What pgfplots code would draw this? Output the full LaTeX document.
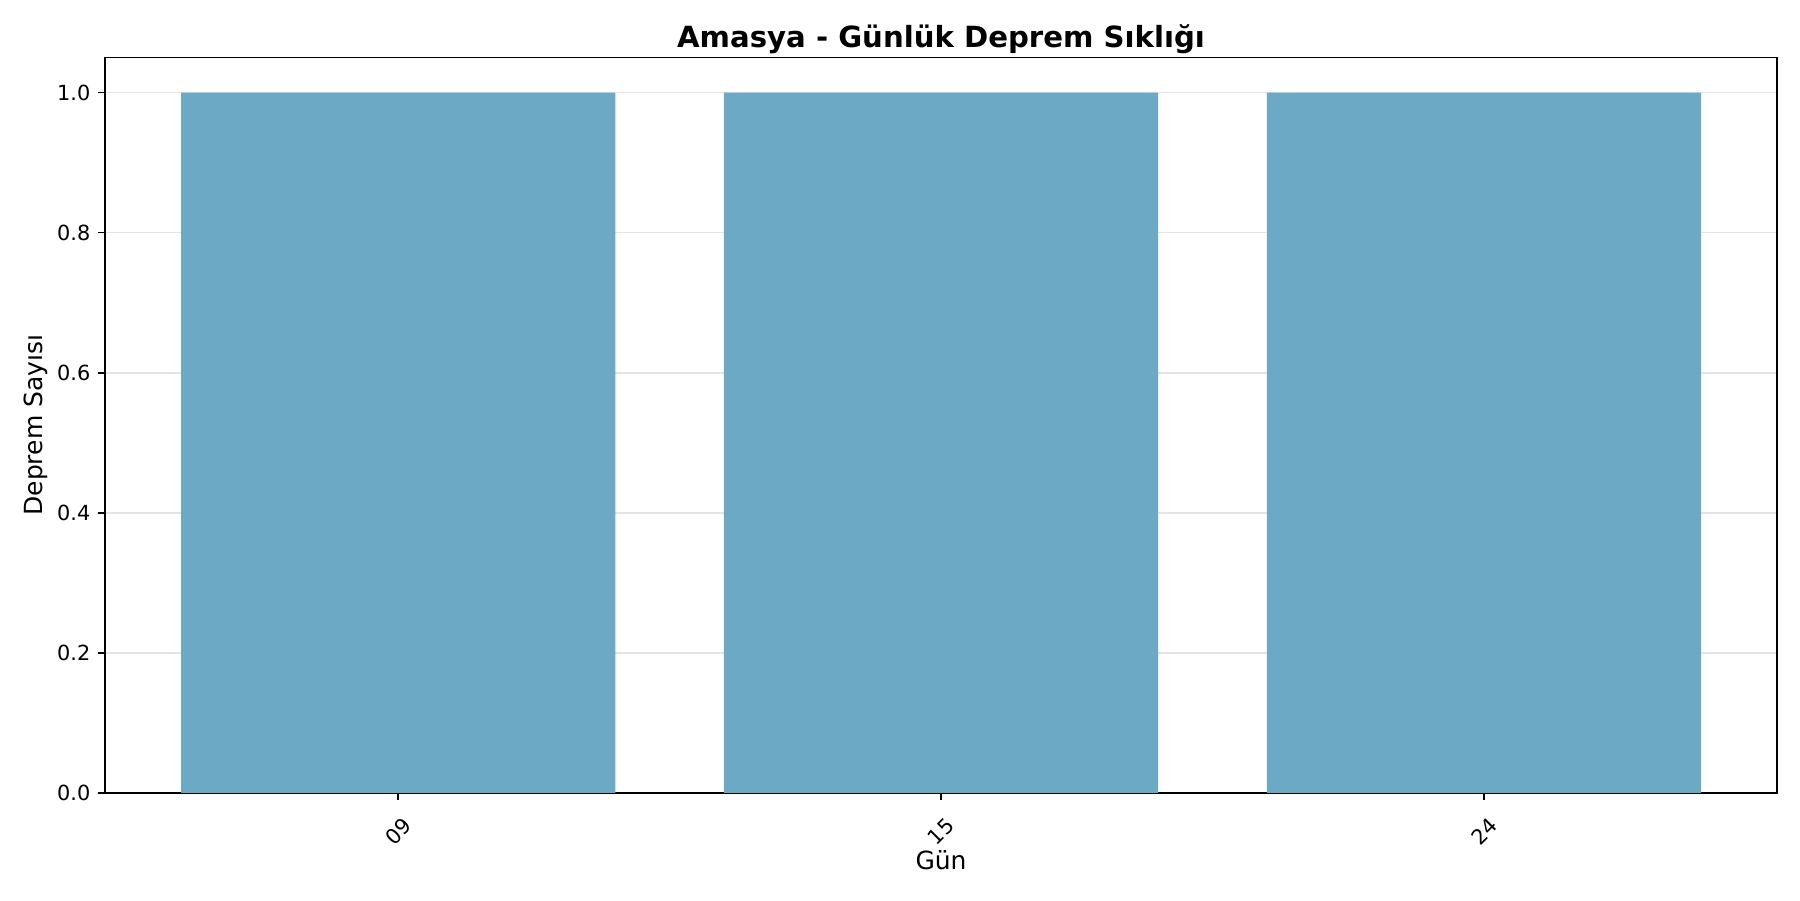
\documentclass[border=0pt]{standalone}
\usepackage{fontspec}
\setmainfont{DejaVu Sans}
\usepackage{pgfplots}
\pgfplotsset{compat=1.18}
\definecolor{barc}{RGB}{108,169,196}
\definecolor{gridc}{RGB}{228,228,228}
\begin{document}
\begin{tikzpicture}
\useasboundingbox (0,0) rectangle (864pt,432pt);
\begin{axis}[
  at={(50.4pt,51.4pt)}, anchor=south west,
  scale only axis, width=802.6pt, height=353pt,
  xmin=-0.54, xmax=2.54, ymin=0, ymax=1.05,
  xtick={0,1,2}, xticklabels={09,15,24},
  ytick={0,0.2,0.4,0.6,0.8,1.0},
  yticklabel style={/pgf/number format/.cd, fixed, fixed zerofill, precision=1},
  /pgf/number format/assume math mode=true,
  tick align=outside, major tick length=3.5pt,
  tick style={line width=0.8pt, black},
  xtick pos=bottom, ytick pos=left,
  axis line style={line width=0.8pt},
  ymajorgrids, major grid style={gridc, line width=0.8pt},
  ticklabel style={font=\fontsize{10}{12}\selectfont},
  x tick label style={rotate=45, anchor=center, xshift=-10.6pt, yshift=-10.6pt},
  xlabel={Gün}, ylabel={Deprem Sayısı},
  label style={font=\fontsize{12}{14}\selectfont},
  xlabel style={at={(0.5,0)}, anchor=center, yshift=-32.5pt},
  ylabel style={at={(0,0.5)}, anchor=center, yshift=33pt},
  title={Amasya - Günlük Deprem Sıklığı},
  title style={font=\fontsize{14}{17}\bfseries, at={(0.5,1)}, anchor=base, yshift=-1pt},
]
\addplot[ybar, bar width=0.8, fill=barc, draw=none] coordinates {(0,1) (1,1) (2,1)};
\end{axis}
\end{tikzpicture}
\end{document}
